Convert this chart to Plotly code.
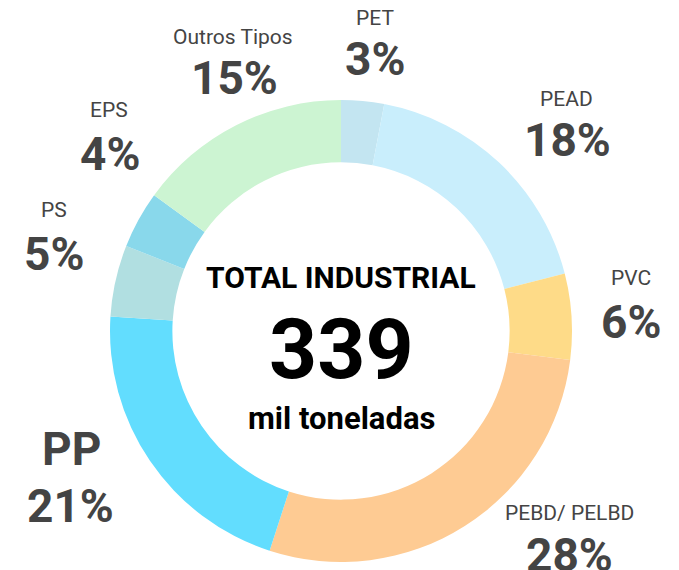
import plotly.graph_objects as go

W, H = 679, 570
OFF = 8  # page body margin offset

# Data
categories = ["PET", "PEAD", "PVC", "PEBD/ PELBD", "PP", "PS", "EPS", "Outros Tipos"]
shares = [3, 18, 6, 28, 21, 5, 4, 15]
colors = ["#c3e5f1", "#c9eefc", "#fedb88", "#fecb93", "#62ddfe", "#b1dfe1", "#89d8eb", "#ccf4d2"]
pct_labels = [f"{v}%" for v in shares]
total_title = "TOTAL INDUSTRIAL"
total_value = "339"
total_unit = "mil toneladas"

# label anchor positions in window pixels (name center, percentage center)
label_pos = {
    "PET": ((375, 17.5), (375, 59.5)),
    "PEAD": ((566, 99.5), (567, 140.5)),
    "PVC": ((631, 278), (631, 321.5)),
    "PEBD/ PELBD": ((569, 512.5), (569, 554.5)),
    "PP": ((71, 448.5), (70, 505.5)),
    "PS": ((53.5, 210), (54, 254)),
    "EPS": ((109, 110), (109.5, 153.5)),
    "Outros Tipos": ((233, 36.5), (234, 78)),
}

FONT = "Roboto, Liberation Sans, sans-serif"

def px(x, y):
    return (x - OFF) / W, 1 - (y - OFF) / H

cx, cy, R = 341, 331, 231
x0, y1 = px(cx - R, cy - R)
x1, y0 = px(cx + R, cy + R)
fig = go.Figure(go.Pie(
    labels=categories, values=shares, sort=False, direction="clockwise", rotation=0,
    hole=0.73, marker=dict(colors=colors, line=dict(width=0)),
    textinfo="none", hoverinfo="label+percent", showlegend=False,
    domain=dict(x=[x0, x1], y=[y0, y1]),
))

ann = []
for cat, pct in zip(categories, pct_labels):
    (nx, ny), (qx, qy) = label_pos[cat]
    big = cat == "PP"
    x, y = px(nx, ny)
    ann.append(dict(x=x, y=y, text=f"<b>{cat}</b>" if big else cat, showarrow=False,
                    xref="paper", yref="paper", xanchor="center", yanchor="middle",
                    font=dict(family=FONT, size=46 if big else 21, color="#444444")))
    x, y = px(qx, qy)
    ann.append(dict(x=x, y=y, text=f"<b>{pct}</b>", showarrow=False,
                    xref="paper", yref="paper", xanchor="center", yanchor="middle",
                    font=dict(family=FONT, size=46, color="#444444")))

for txt, yy, sz in [(total_title, 277, 30), (total_value, 349, 84), (total_unit, 418, 31)]:
    x, y = px(341, yy)
    ann.append(dict(x=x, y=y, text=f"<b>{txt}</b>", showarrow=False,
                    xref="paper", yref="paper", xanchor="center", yanchor="middle",
                    font=dict(family=FONT, size=sz, color="#000000")))

fig.update_layout(width=W, height=H, margin=dict(l=0, r=0, t=0, b=0),
                  paper_bgcolor="white", plot_bgcolor="white", annotations=ann)
fig.write_html("out.html")
